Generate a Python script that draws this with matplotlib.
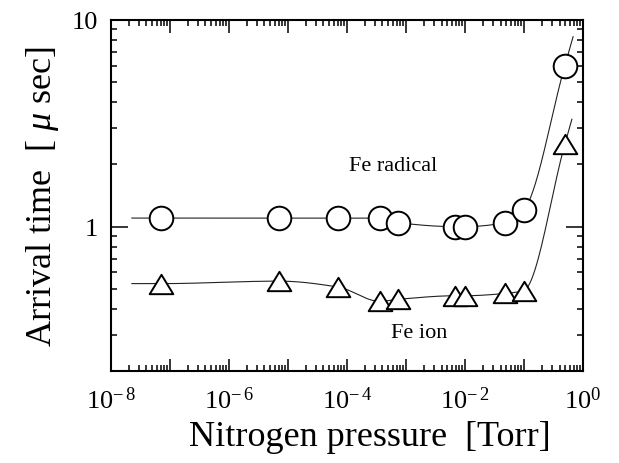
import numpy as np
import matplotlib
matplotlib.use("Agg")
import matplotlib.pyplot as plt
from matplotlib.ticker import LogLocator, FuncFormatter, NullFormatter
from matplotlib.path import Path

plt.rcParams['font.family'] = ['Liberation Serif', 'DejaVu Serif']
plt.rcParams['mathtext.fontset'] = 'custom'
plt.rcParams['mathtext.rm'] = 'Liberation Serif'
plt.rcParams['mathtext.it'] = 'Liberation Serif:italic'

# ---- data ----
pressure = [7.2e-8, 7.1e-6, 7.1e-5, 3.6e-4, 7.4e-4, 6.8e-3, 9.8e-3, 4.8e-2, 9.8e-2, 0.49]
fe_radical = [1.10, 1.10, 1.10, 1.10, 1.045, 1.00, 1.00, 1.045, 1.20, 6.0]
fe_ion = [0.53, 0.545, 0.51, 0.435, 0.445, 0.463, 0.463, 0.475, 0.49, 2.5]
series_labels = ["Fe radical", "Fe ion"]


def pchip_curve(xs, ys, left_ext, right_ext):
    """Smooth monotone-cubic curve in log-log space, with short extensions."""
    lx = np.log10(np.asarray(xs, float))
    ly = np.log10(np.asarray(ys, float))
    lx = np.concatenate([[lx[0] - left_ext], lx])
    ly = np.concatenate([[ly[0]], ly])
    h = np.diff(lx)
    d = np.diff(ly) / h
    m = np.zeros_like(lx)
    for k in range(1, len(lx) - 1):
        if d[k - 1] * d[k] <= 0:
            m[k] = 0.0
        else:
            w1 = 2 * h[k] + h[k - 1]
            w2 = h[k] + 2 * h[k - 1]
            m[k] = (w1 + w2) / (w1 / d[k - 1] + w2 / d[k])
    m[0] = 0.0
    m[-1] = d[-1]
    xx = []
    yy = []
    for k in range(len(h)):
        t = np.linspace(0, 1, 60)
        h00 = 2 * t**3 - 3 * t**2 + 1
        h10 = t**3 - 2 * t**2 + t
        h01 = -2 * t**3 + 3 * t**2
        h11 = t**3 - t**2
        yv = h00 * ly[k] + h10 * h[k] * m[k] + h01 * ly[k + 1] + h11 * h[k] * m[k + 1]
        xx.append(lx[k] + t * h[k])
        yy.append(yv)
    te = np.linspace(0, right_ext, 20)
    xx.append(lx[-1] + te)
    yy.append(ly[-1] + m[-1] * te)
    return 10 ** np.concatenate(xx), 10 ** np.concatenate(yy)


fig = plt.figure(figsize=(6.19, 4.64), dpi=100)
ax = fig.add_axes([0.179, 0.198, 0.763, 0.757])

cx, cy = pchip_curve(pressure, fe_radical, 0.5, 0.14)
tx, ty = pchip_curve(pressure, fe_ion, 0.5, 0.12)
ax.plot(cx, cy, color='#222222', lw=0.8, zorder=2)
ax.plot(tx, ty, color='#222222', lw=0.8, zorder=2)

tri = Path([(0, 0.82), (-1, -0.82), (1, -0.82), (0, 0.82)],
           [Path.MOVETO, Path.LINETO, Path.LINETO, Path.CLOSEPOLY])
ax.plot(pressure, fe_radical, linestyle='none', marker='o', markersize=17,
        markerfacecolor='white', markeredgecolor='black', markeredgewidth=1.4, zorder=3)
ax.plot(pressure, fe_ion, linestyle='none', marker=tri, markersize=17,
        markerfacecolor='white', markeredgecolor='black', markeredgewidth=1.4, zorder=3)

ax.set_xscale('log')
ax.set_yscale('log')
ax.set_xlim(1e-8, 1)
ax.set_ylim(0.2, 10)

ax.xaxis.set_major_locator(LogLocator(base=10, numticks=20))
ax.xaxis.set_minor_locator(LogLocator(base=10, subs=np.arange(2, 10), numticks=100))


def xfmt(v, pos):
    e = int(round(np.log10(v)))
    if e % 2:
        return ''
    if e == 0:
        return r'$\mathregular{10^{0}}$'
    return r'$\mathregular{10^{-\,%d}}$' % (-e)


ax.xaxis.set_major_formatter(FuncFormatter(xfmt))
ax.xaxis.set_minor_formatter(NullFormatter())
ax.yaxis.set_major_locator(LogLocator(base=10, numticks=20))
ax.yaxis.set_minor_locator(LogLocator(base=10, subs=np.arange(2, 10), numticks=100))
ax.yaxis.set_major_formatter(FuncFormatter(lambda v, p: '%g' % v))
ax.yaxis.set_minor_formatter(NullFormatter())

ax.tick_params(axis='both', which='both', direction='in', top=True, right=True, width=1.1)
ax.tick_params(axis='x', which='major', length=9, labelsize=19, pad=11)
ax.tick_params(axis='x', which='minor', length=4.5)
ax.tick_params(axis='y', which='major', length=12.5, labelsize=19, pad=9)
ax.tick_params(axis='y', which='minor', length=4.5)
for s in ax.spines.values():
    s.set_linewidth(1.5)

ax.set_xlabel('Nitrogen pressure  [Torr]', fontsize=26)
ax.xaxis.set_label_coords(0.549, -0.138)
ax.xaxis.label.set_va('top')
ax.set_ylabel(r'Arrival time  [ $\mu$ sec]', fontsize=26, labelpad=8)

ax.text(0.597, 0.584, series_labels[0], transform=ax.transAxes, fontsize=16,
        ha='center', va='center')
ax.text(0.653, 0.111, series_labels[1], transform=ax.transAxes, fontsize=16,
        ha='center', va='center')

fig.savefig('out.png', dpi=100)
